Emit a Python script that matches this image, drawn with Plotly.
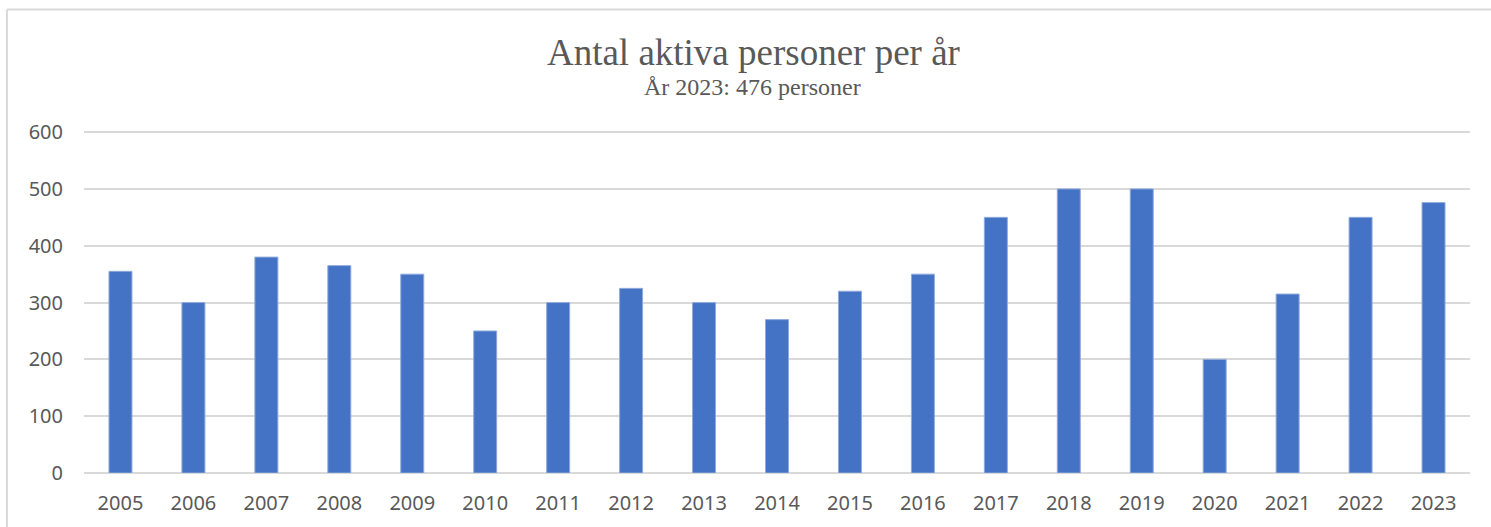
import plotly.graph_objects as go

years = [str(y) for y in range(2005, 2024)]
personer = [355, 300, 380, 365, 350, 250, 300, 325, 300, 270,
            320, 350, 450, 500, 500, 200, 315, 450, 476]
y_ticks = [0, 100, 200, 300, 400, 500, 600]

title_text = "Antal aktiva personer per år"
subtitle_text = "År 2023: 476 personer"

fig = go.Figure()

fig.add_trace(go.Bar(
    x=years,
    y=personer,
    marker=dict(color="#4472C4", line=dict(color="#8FAADC", width=1)),
    showlegend=False,
))

# light frame around the chart area (top and left edges visible)
fig.add_shape(type="line", xref="paper", yref="paper",
              x0=-0.0556, x1=1.02, y0=1.355, y1=1.355,
              line=dict(color="#d9d9d9", width=2))
fig.add_shape(type="line", xref="paper", yref="paper",
              x0=-0.0556, x1=-0.0556, y0=1.355, y1=-0.2,
              line=dict(color="#d9d9d9", width=2))

fig.update_layout(
    width=1491,
    height=527,
    margin=dict(l=84, r=21, t=131, b=54),
    paper_bgcolor="white",
    plot_bgcolor="white",
    bargap=0.685,
    title=dict(
        text=title_text,
        x=0.483, xref="paper", xanchor="center",
        y=0.902, yref="container", yanchor="middle",
        font=dict(family="Liberation Serif", size=37, color="#595959"),
    ),
    annotations=[dict(
        text=subtitle_text,
        xref="paper", yref="paper",
        x=0.482, y=1.129, xanchor="center", yanchor="middle",
        showarrow=False,
        font=dict(family="Liberation Serif", size=24, color="#595959"),
    )],
    xaxis=dict(
        showgrid=False, showline=False, ticks="", ticklabelstandoff=16,
        tickfont=dict(family="Noto Sans", size=20, color="#595959"),
    ),
    yaxis=dict(
        range=[0, 602], tickvals=y_ticks,
        showgrid=True, gridcolor="#d9d9d9", gridwidth=1.5,
        zeroline=True, zerolinecolor="#d9d9d9", zerolinewidth=1.5,
        showline=False, ticks="", ticklabelstandoff=20,
        tickfont=dict(family="Noto Sans", size=20, color="#595959"),
    ),
)

fig.write_html("out.html", config={"displayModeBar": False},
               post_script="document.body.style.margin='0';")
